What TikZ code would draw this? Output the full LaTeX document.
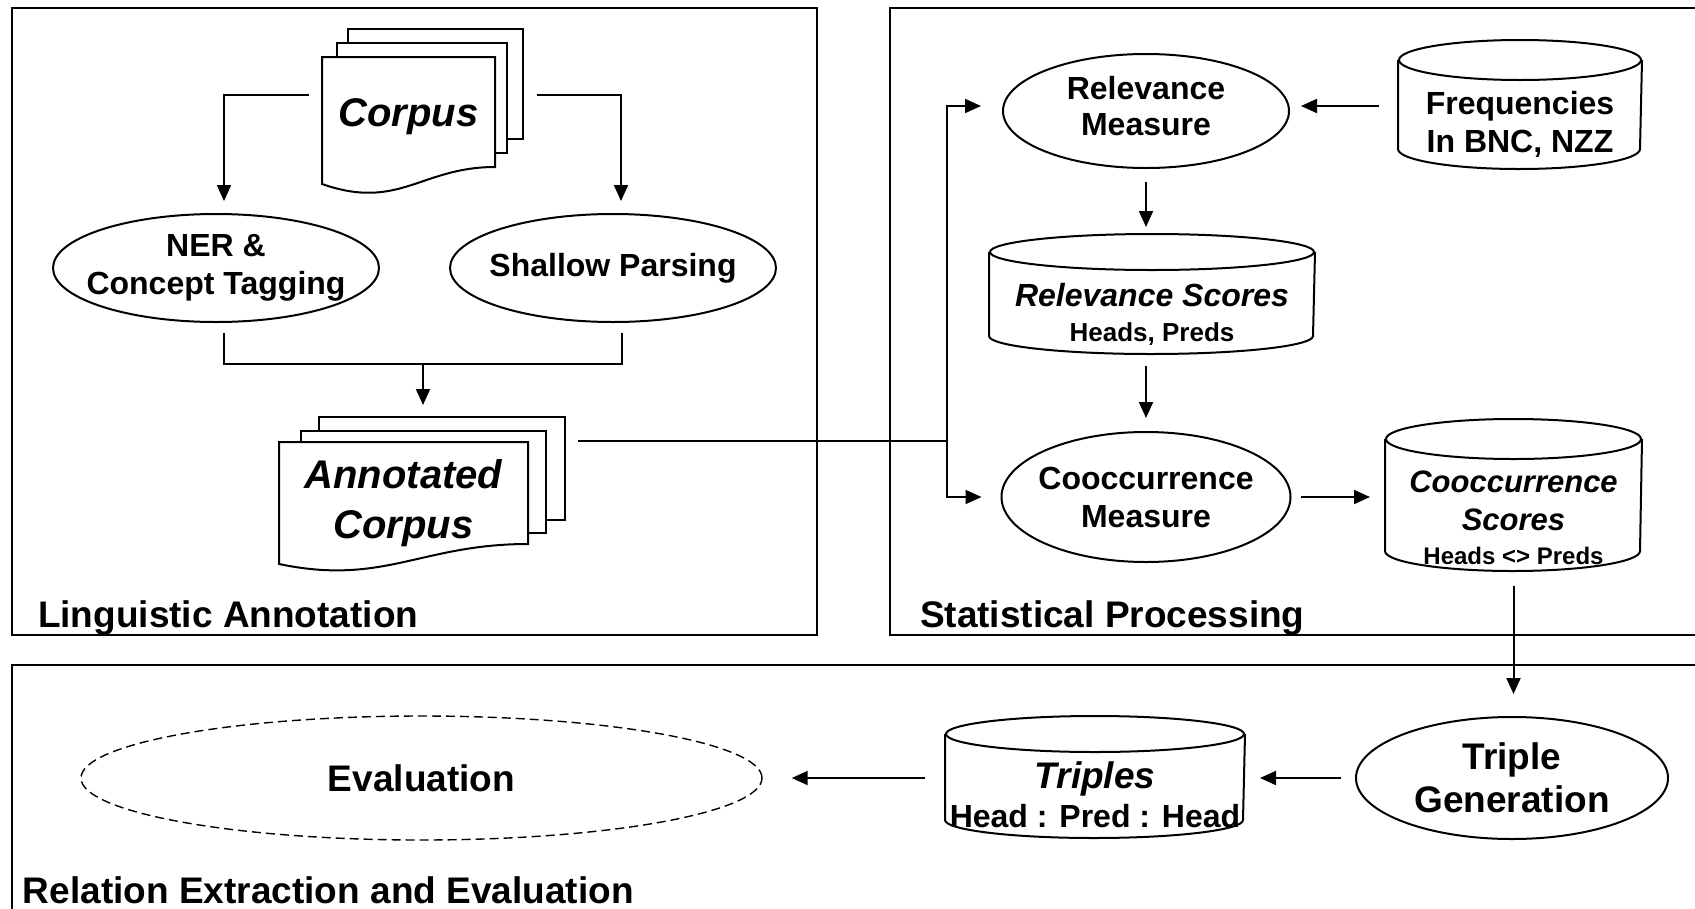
\documentclass[tikz,border=0pt]{standalone}
\usepackage{fontspec}
\setmainfont{Liberation Sans}
\usetikzlibrary{arrows.meta,shapes.geometric,backgrounds}

\begin{document}
\begin{tikzpicture}[x=1pt,y=-1pt,>={Triangle[length=16pt,width=14pt]},line width=2pt,
	ell/.style={draw,ellipse,inner xsep=-80pt,inner ysep=-30pt,align=center,
		font=\bfseries\fontsize{32}{38}\selectfont},
	db/.style={rectangle,inner sep=0pt,align=center,font=\bfseries\fontsize{32}{38}\selectfont},
	doc/.style={rectangle,inner sep=0pt,align=center,font=\bfseries\itshape\fontsize{40}{50}\selectfont},
	page/.style={draw,fill=white,line width=2pt},
	arr/.style={->,shorten >=12pt},
	title/.style={anchor=base west,inner sep=0pt,font=\bfseries\fontsize{37}{44}\selectfont}]

\useasboundingbox (0,0) rectangle (1695,908);

% frames
\draw (12,8) rectangle (817,635);
\draw (890,8) rectangle (1712,635);
\draw (12,665) rectangle (1712,925);

\node[title] (lingtitle) at (37,627) {Linguistic Annotation};
\node[title] (stattitle) at (919,627) {Statistical Processing};
\node[title] (reltitle) at (22,903) {Relation Extraction and Evaluation};

% linguistic annotation
\node[doc,minimum width=171pt,minimum height=125pt,text depth=16pt] (corpus) at (408.5,120.5) {Corpus};
\node[ell,minimum width=326pt,minimum height=108pt] (ner) at (216,268) {NER \&\\Concept Tagging};
\node[ell,minimum width=326pt,minimum height=108pt] (shallow) at (613,268) {Shallow Parsing};
\node[doc,minimum width=247pt,minimum height=120pt] (annot) at (403.5,503) {Annotated\\Corpus};

% statistical processing
\node[ell,minimum width=286pt,minimum height=114pt] (relm) at (1146,111) {Relevance\\[-2pt]Measure\rule[-10pt]{0pt}{10pt}};
\node[db,minimum width=242pt,minimum height=87pt] (freq) at (1520,124.5) {Frequencies\\In BNC, NZZ};
\node[db,minimum width=324pt,minimum height=77pt] (rels) at (1152,314.5)
	{{\itshape Relevance Scores}\\[-3pt]{\fontsize{26}{30}\selectfont Heads, Preds}};
\node[ell,minimum width=289pt,minimum height=130pt] (coocm) at (1146,497) {Cooccurrence\\Measure};
\node[db,minimum width=255pt,minimum height=105pt,font=\bfseries\fontsize{31}{38}\selectfont] (coocs) at (1513.5,517.5)
	{{\itshape Cooccurrence}\\{\itshape Scores}\\[-4pt]{\fontsize{24}{28}\selectfont Heads <> Preds}};

% relation extraction
\node[ell,minimum width=312pt,minimum height=122pt,font=\bfseries\fontsize{37}{43}\selectfont] (tg) at (1512,778) {Triple\\Generation};
\node[db,minimum width=298pt,minimum height=84pt] (triples) at (1095,795)
	{{\fontsize{37}{42}\selectfont\itshape Triples}\\[1pt]Head : Pred : Head};
\node[ell,minimum width=681pt,minimum height=124pt,line width=1.4pt,dash pattern=on 9pt off 5pt,
	font=\bfseries\fontsize{37}{43}\selectfont] (eval) at (421.5,778) {Evaluation};

% cylinders: node, width, cap radius, gap above text
\foreach \n/\w/\r/\t in {freq/242/20/0,rels/324/18/5,coocs/255/20/5,triples/298/18/0}{
	\draw ([yshift=\r*1pt+\t*1pt]\n.north) ellipse [x radius=\w*0.5pt,y radius=\r*1pt];
	\draw ([yshift=\r*1pt+\t*1pt]\n.north west) -- ([yshift=\r*1pt]\n.south west)
		arc[start angle=180,end angle=360,x radius=\w*0.5pt,y radius=\r*1pt]
		-- ([yshift=\r*1pt+\t*1pt]\n.north east);
}

% connectors
\draw[arr] ([xshift=-13pt,yshift=26pt]corpus.west) -| ([xshift=8pt]ner.north);
\draw[arr] ([xshift=42pt,yshift=26pt]corpus.east) -| ([xshift=8pt]shallow.north);

\coordinate (merge) at (423,364);
\draw ([xshift=8pt,yshift=-10pt]ner.south) |- (merge);
\draw ([xshift=9pt,yshift=-10pt]shallow.south) |- (merge);
\draw[arr,shorten >=37pt] (merge) -- (merge |- annot.north);

\coordinate (fork) at (947,441);
\draw ([xshift=50pt,yshift=62pt]annot.east) -- (fork);
\draw[arr,shorten >=21pt] (fork) |- ([yshift=5pt]relm.west);
\draw[arr,shorten >=19pt] (fork) |- (coocm.west);

\draw[arr,shorten <=19pt,shorten >=11pt] ([yshift=5pt]relm.east -| freq.west) -- ([yshift=5pt]relm.east);
\draw[arr,shorten <=13pt,shorten >=48pt] (relm.south) -- (relm.south |- rels.north);
\draw[arr,shorten <=12pt,shorten >=13pt] (rels.south -| coocm.north) -- (coocm.north);
\draw[arr,shorten <=9pt,shorten >=15pt] (coocm.east) -- (coocm.east -| coocs.west);
\draw[arr,shorten <=15pt,shorten >=22pt] (coocs.south) -- (coocs.south |- tg.north);
\draw[arr,shorten <=14pt,shorten >=15pt] (tg.west) -- (tg.west -| triples.east);
\draw[arr,shorten <=20pt,shorten >=29pt] (eval.east -| triples.west) -- (eval.east);

% document stacks
\begin{scope}[on background layer]
\fill[white] (0,0) rectangle (1695,908);
\draw[page] ([xshift=26pt,yshift=28pt]corpus.north west) rectangle ([xshift=28pt,yshift=45pt]corpus.south east);
\draw[page] ([xshift=15pt,yshift=14pt]corpus.north west) rectangle ([xshift=12pt,yshift=31pt]corpus.south east);
\draw[page] (corpus.north west) -- (corpus.north east) -- ([yshift=17pt]corpus.south east)
	.. controls +(-74pt,0pt) and +(77pt,-27pt) .. (corpus.south west) -- cycle;
\draw[page] ([xshift=40pt,yshift=25pt]annot.north west) rectangle ([xshift=37pt,yshift=44pt]annot.south east);
\draw[page] ([xshift=22pt,yshift=11pt]annot.north west) rectangle ([xshift=18pt,yshift=31pt]annot.south east);
\draw[page] (annot.north west) -- (annot.north east) -- ([yshift=20pt]annot.south east)
	.. controls +(-107pt,0pt) and +(105pt,-22pt) .. (annot.south west) -- cycle;
\end{scope}

\end{tikzpicture}
\end{document}
